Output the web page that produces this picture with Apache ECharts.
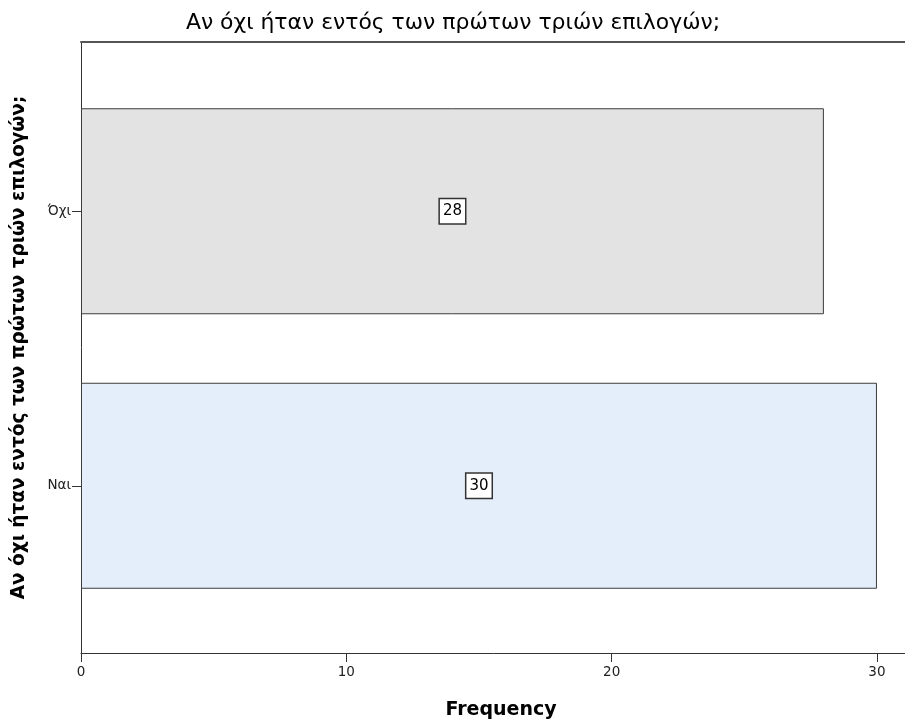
<!DOCTYPE html>
<html>
<head>
<meta charset="utf-8">
<script src="https://cdn.jsdelivr.net/npm/echarts@6/dist/echarts.min.js"></script>
<style>
  html, body { margin: 0; padding: 0; background: #fff; }
  #main { width: 905px; height: 722px; }
</style>
</head>
<body>
<div id="main"></div>
<script>
// data
const titleText = 'Αν όχι ήταν εντός των πρώτων τριών επιλογών;'
const categories = ['Όχι', 'Ναι']       // top to bottom
const frequency = [28, 30]
const xTicks = [0, 10, 20, 30]
const xMax = 31.66                      // plot runs past 30, cut off at the right edge

// bar fills, one per category
const barColors = ['#e3e3e3', '#e4eefa']

const font = '"DejaVu Sans", Verdana, sans-serif'

let chart = echarts.init(document.getElementById('main'))

let option = {
  animation: false,
  title: {
    text: titleText,
    left: 448,
    textAlign: 'center',
    top: 7,
    textStyle: { fontFamily: font, fontSize: 21.9, fontWeight: 'normal', color: '#000' }
  },
  grid: [
    // frame (axis lines, ticks, names); wider than the page, right side is cut off
    { left: 81, width: 840, top: 42, bottom: 69, outerBoundsMode: 'none', containLabel: false },
    // bars sit in an inner band so there is padding above and below
    { left: 81, width: 840, top: 74, bottom: 99, outerBoundsMode: 'none', containLabel: false }
  ],
  xAxis: [
    {
      gridIndex: 0,
      type: 'value',
      min: 0,
      max: xMax,
      position: 'bottom',
      splitLine: { show: false },
      axisLine: { show: true, lineStyle: { color: '#333', width: 1 } },
      axisTick: { show: true, customValues: xTicks, length: 9, lineStyle: { color: '#333' } },
      axisLabel: { customValues: xTicks, margin: 12, fontFamily: font, fontSize: 13.5, color: '#222' },
      name: 'Frequency',
      nameLocation: 'middle',
      nameGap: 48,
      nameTextStyle: { fontFamily: font, fontSize: 19, fontWeight: 'bold', color: '#000' }
    },
    {
      gridIndex: 0,
      type: 'value',
      min: 0,
      max: xMax,
      position: 'top',
      splitLine: { show: false },
      axisLine: { show: true, lineStyle: { color: '#555', width: 2 } },
      axisTick: { show: false },
      axisLabel: { show: false }
    },
    {
      gridIndex: 1,
      type: 'value',
      min: 0,
      max: xMax,
      show: false
    }
  ],
  yAxis: [
    {
      gridIndex: 0,
      type: 'value',
      min: 0,
      max: 1,
      splitLine: { show: false },
      axisLine: { show: true, lineStyle: { color: '#333', width: 1 } },
      axisTick: { show: false },
      axisLabel: { show: false },
      name: titleText,
      nameLocation: 'middle',
      nameGap: 52,
      nameTextStyle: { fontFamily: font, fontSize: 18.5, fontWeight: 'bold', color: '#000' }
    },
    {
      gridIndex: 1,
      type: 'category',
      inverse: true,
      data: categories,
      axisLine: { show: false },
      axisTick: { show: true, alignWithLabel: true, length: 9, lineStyle: { color: '#333' } },
      axisLabel: { margin: 10, fontFamily: font, fontSize: 13.5, color: '#222' }
    }
  ],
  series: [
    {
      type: 'bar',
      xAxisIndex: 2,
      yAxisIndex: 1,
      barWidth: 206,
      data: frequency.map((v, i) => ({
        value: v,
        itemStyle: { color: barColors[i] }
      })),
      itemStyle: { borderColor: '#3c3c3c', borderWidth: 1 },
      label: {
        show: true,
        position: 'inside',
        fontFamily: font,
        fontSize: 15,
        color: '#000',
        backgroundColor: '#fff',
        borderColor: '#333',
        borderWidth: 1.5,
        padding: [5, 3, 4, 3]
      }
    }
  ]
}

chart.setOption(option)
</script>
</body>
</html>
